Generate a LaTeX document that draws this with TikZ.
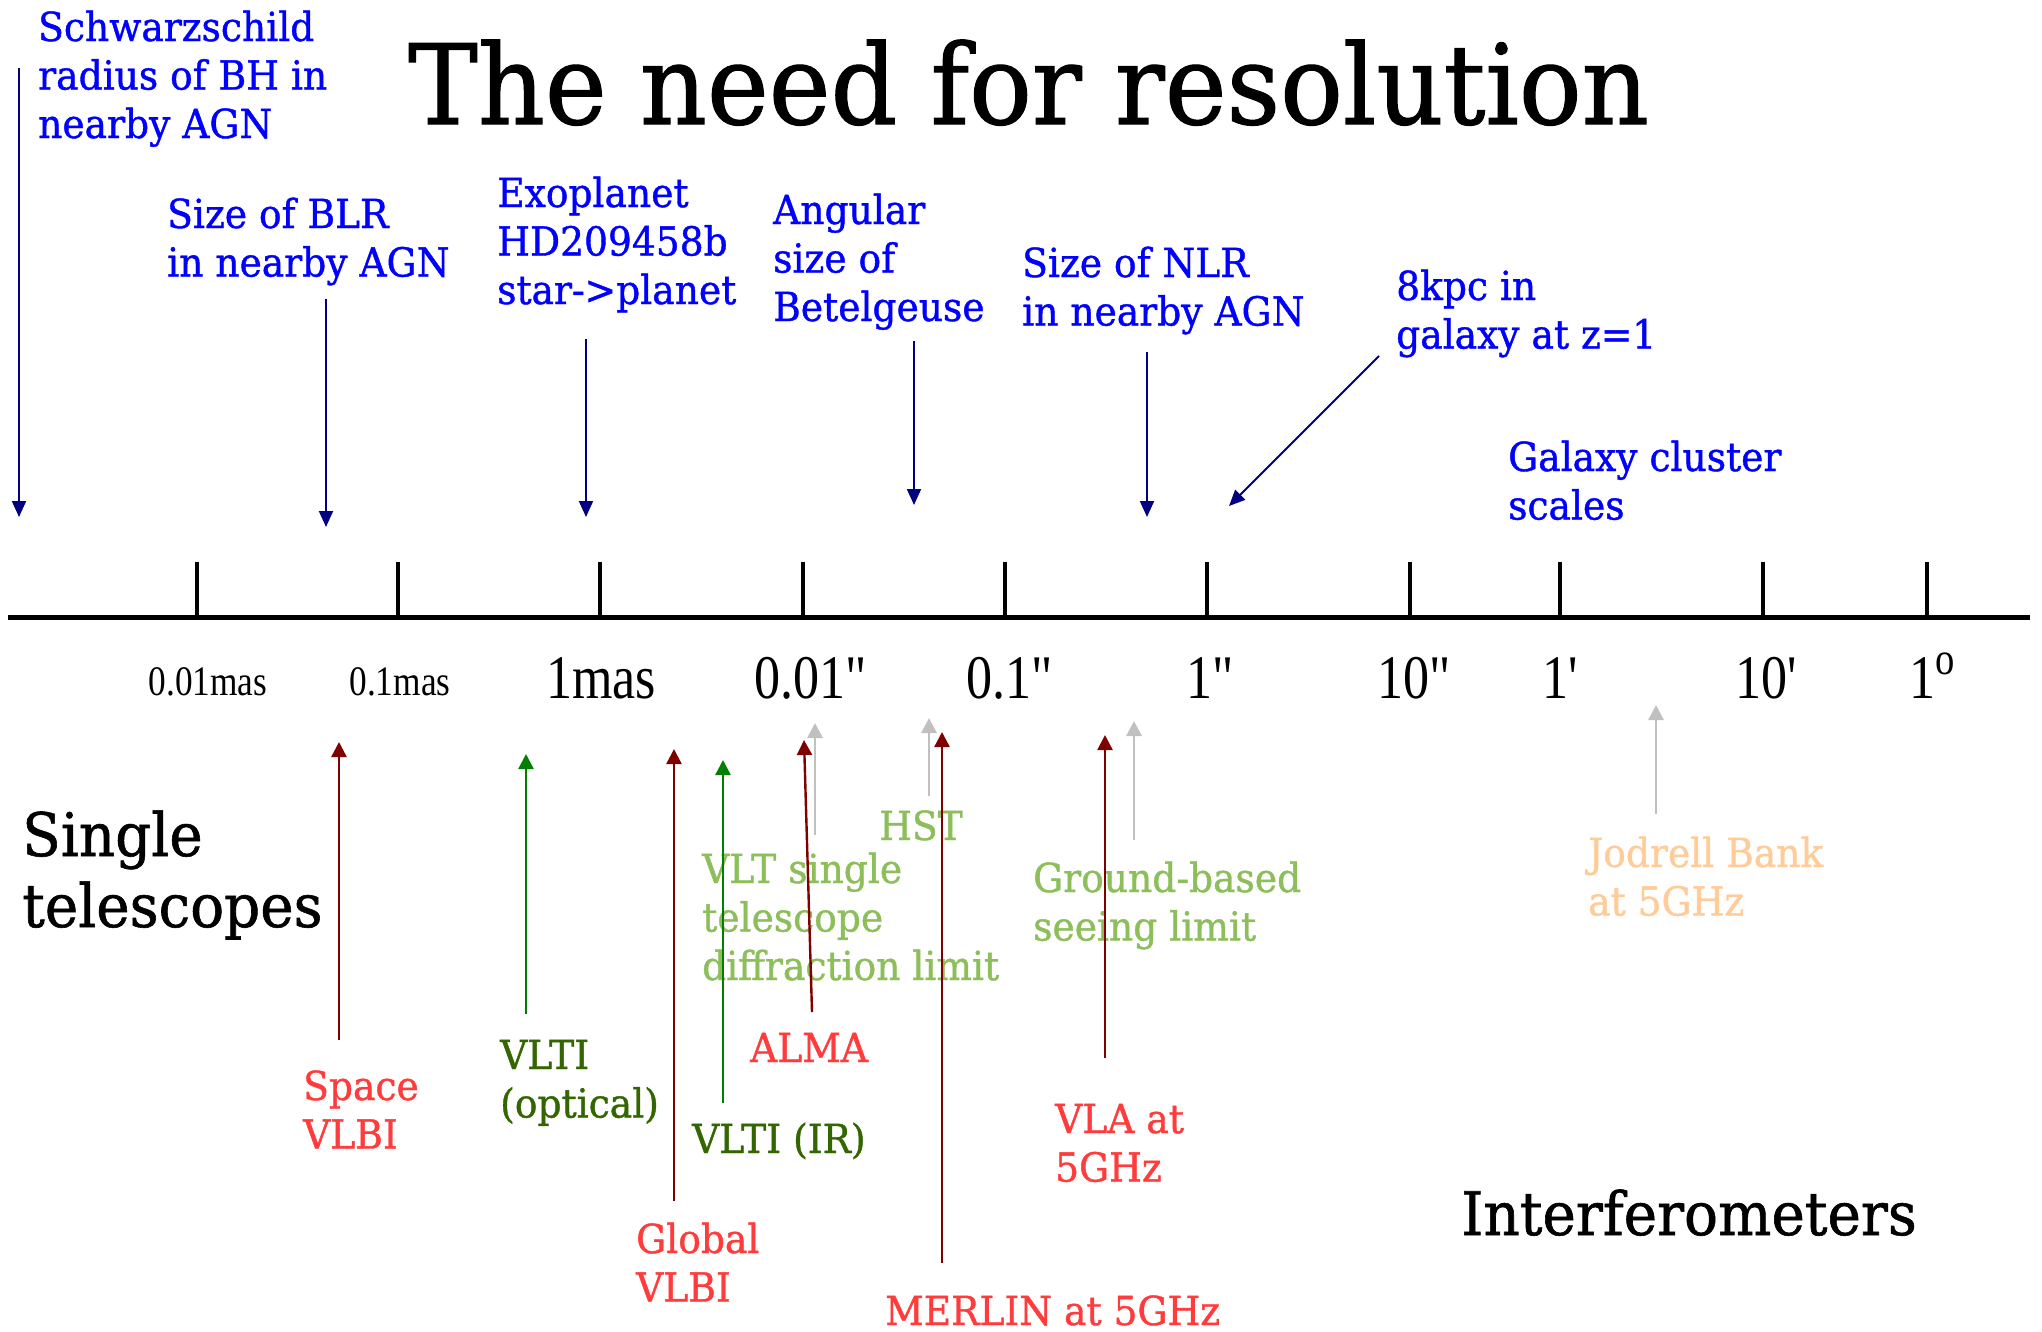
\documentclass[tikz,border=0pt]{standalone}
\usepackage{fontspec}
\setmainfont{DejaVu Serif}[FakeStretch=0.94,FakeBold=1]
\newfontfamily\tickfont{Liberation Serif}[FakeStretch=0.84]
\usetikzlibrary{arrows.meta}

\definecolor{lblblue}{RGB}{0,0,255}
\definecolor{navyarrow}{RGB}{0,0,128}
\definecolor{radiored}{RGB}{255,59,59}
\definecolor{arrowred}{RGB}{128,0,0}
\definecolor{irgreen}{RGB}{51,102,0}
\definecolor{arrowgreen}{RGB}{0,128,0}
\definecolor{seeinggreen}{RGB}{140,190,90}
\definecolor{lightgrey}{RGB}{192,192,192}
\definecolor{jborange}{RGB}{255,204,153}

% multi-line label whose baseline is that of its first line
\newcommand{\mlines}[1]{\begin{tabular}[t]{@{}l@{}}#1\end{tabular}}

\begin{document}
\begin{tikzpicture}[x=1pt,y=-1pt,
  lbl/.style={anchor=base west, inner sep=0pt, font=\fontsize{40}{48.5}\selectfont},
  bluelbl/.style={lbl, text=lblblue},
  redlbl/.style={lbl, text=radiored},
  irlbl/.style={lbl, text=irgreen},
  seeinglbl/.style={lbl, text=seeinggreen},
  jblbl/.style={lbl, text=jborange},
  biglbl/.style={anchor=base west, inner sep=0pt, font=\fontsize{60}{71}\selectfont},
  titlelbl/.style={anchor=base west, inner sep=0pt, font=\fontsize{111}{120}\selectfont},
  ticklbl/.style={anchor=base, inner sep=0pt, font=\tickfont\fontsize{62}{62}\selectfont},
  smallticklbl/.style={anchor=base, inner sep=0pt, font=\tickfont\fontsize{42}{42}\selectfont},
  navyarr/.style={draw=navyarrow, line width=2pt, -{Triangle[length=16pt,width=14pt]}},
  redarr/.style={draw=arrowred, line width=2.4pt, -{Triangle[length=15pt,width=15pt]}},
  greenarr/.style={draw=arrowgreen, line width=2.4pt, -{Triangle[length=15pt,width=15pt]}},
  greyarr/.style={draw=lightgrey, line width=2.8pt, -{Triangle[length=15pt,width=15pt]}},
]
\useasboundingbox (0,0) rectangle (2042,1331);

% title
\node[titlelbl] (title) at (408,124) {The need for resolution};

% angular scale axis
\coordinate (axl) at (8,617);
\coordinate (axr) at (2030,617);
\draw[line width=5pt] (axl) -- (axr);
\foreach \tx in {197,398,600,803,1005,1207,1410,1560,1763,1927}
  \draw[line width=3.5pt] (\tx,617) -- (\tx,562);

% axis labels
\node[smallticklbl] (t1) at (208,695) {0.01mas};
\node[smallticklbl] (t2) at (400,695) {0.1mas};
\node[ticklbl] (t3) at (601,698) {1mas};
\node[ticklbl] (t4) at (811,698) {0.01"};
\node[ticklbl] (t5) at (1010,698) {0.1"};
\node[ticklbl] (t6) at (1210,698) {1"};
\node[ticklbl] (t7) at (1414,698) {10"};
\node[ticklbl] (t8) at (1560,698) {1'};
\node[ticklbl] (t9) at (1766,698) {10'};
\node[ticklbl] (t10) at (1932,698) {1\raisebox{24pt}{\fontsize{46}{46}\selectfont o}};

% physical scales above the axis
\node[bluelbl] (sch) at (38,41) {\mlines{Schwarzschild\\radius of BH in\\nearby AGN}};
\node[bluelbl] (blr) at (167,228) {\mlines{Size of BLR\\in nearby AGN}};
\node[bluelbl] (exo) at (497,207) {\mlines{Exoplanet\\HD209458b\\star->planet}};
\node[bluelbl] (bet) at (773,224) {\mlines{Angular\\size of\\Betelgeuse}};
\node[bluelbl] (nlr) at (1022,277) {\mlines{Size of NLR\\in nearby AGN}};
\node[bluelbl] (kpc) at (1396,300) {\mlines{8kpc in\\galaxy at z=1}};
\node[bluelbl] (clu) at (1508,471) {\mlines{Galaxy cluster\\scales}};

\coordinate (schA) at (19,68);    \coordinate (schB) at (19,517);
\coordinate (blrA) at (326,299);  \coordinate (blrB) at (326,527);
\coordinate (exoA) at (586,339);  \coordinate (exoB) at (586,517);
\coordinate (betA) at (914,341);  \coordinate (betB) at (914,505);
\coordinate (nlrA) at (1147,352); \coordinate (nlrB) at (1147,517);
\coordinate (kpcA) at (1379,356); \coordinate (kpcB) at (1229,506);
\draw[navyarr] (schA) -- (schB);
\draw[navyarr] (blrA) -- (blrB);
\draw[navyarr] (exoA) -- (exoB);
\draw[navyarr] (betA) -- (betB);
\draw[navyarr] (nlrA) -- (nlrB);
\draw[navyarr] (kpcA) -- (kpcB);

% group headings
\node[biglbl] (single) at (22,856) {\mlines{Single\\telescopes}};
\node[biglbl] (interf) at (1461,1235) {Interferometers};

% instruments below the axis
\node[redlbl] (space) at (303,1100) {\mlines{Space\\VLBI}};
\node[irlbl] (vltiopt) at (500,1069) {\mlines{VLTI\\(optical)}};
\node[redlbl] (global) at (636,1253) {\mlines{Global\\VLBI}};
\node[irlbl] (vltiir) at (692,1153) {VLTI (IR)};
\node[redlbl] (alma) at (750,1062) {ALMA};
\node[seeinglbl] (vlt) at (702,883) {\mlines{VLT single\\telescope\\diffraction limit}};
\node[seeinglbl] (hst) at (879,840) {HST};
\node[redlbl] (merlin) at (885,1325) {MERLIN at 5GHz};
\node[seeinglbl] (ground) at (1033,892) {\mlines{Ground-based\\seeing limit}};
\node[redlbl] (vla) at (1055,1133) {\mlines{VLA at\\5GHz}};
\node[jblbl] (jb) at (1588,867) {\mlines{Jodrell Bank\\at 5GHz}};

\coordinate (spaceA) at (339,1040);  \coordinate (spaceB) at (339,742);
\coordinate (voptA) at (526,1014);   \coordinate (voptB) at (526,754);
\coordinate (globA) at (674,1201);   \coordinate (globB) at (674,749);
\coordinate (virA) at (723,1103);    \coordinate (virB) at (723,760);
\coordinate (almaA) at (812,1012);   \coordinate (almaB) at (804,740);
\coordinate (vltA) at (815,835);     \coordinate (vltB) at (815,723);
\coordinate (hstA) at (929,796);     \coordinate (hstB) at (929,718);
\coordinate (merA) at (942,1263);    \coordinate (merB) at (942,732);
\coordinate (vlaA) at (1105,1058);   \coordinate (vlaB) at (1105,735);
\coordinate (grA) at (1134,840);     \coordinate (grB) at (1134,721);
\coordinate (jbA) at (1656,814);     \coordinate (jbB) at (1656,705);

\draw[greyarr] (vltA) -- (vltB);
\draw[greyarr] (hstA) -- (hstB);
\draw[greyarr] (grA) -- (grB);
\draw[greyarr] (jbA) -- (jbB);
\draw[redarr] (spaceA) -- (spaceB);
\draw[greenarr] (voptA) -- (voptB);
\draw[redarr] (globA) -- (globB);
\draw[greenarr] (virA) -- (virB);
\draw[redarr] (almaA) -- (almaB);
\draw[redarr] (merA) -- (merB);
\draw[redarr] (vlaA) -- (vlaB);
\end{tikzpicture}
\end{document}
